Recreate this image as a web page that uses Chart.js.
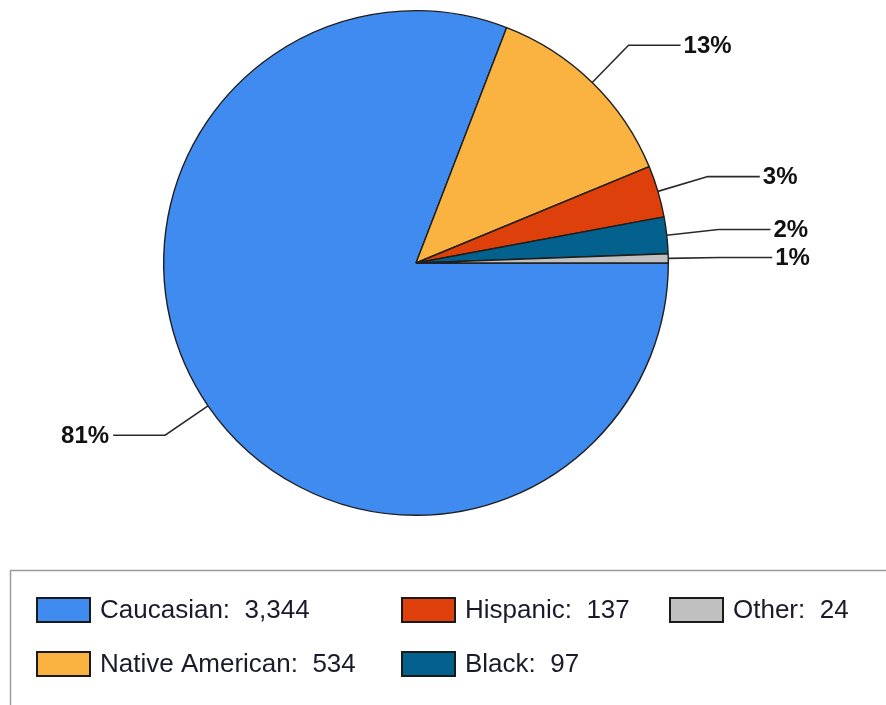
<!DOCTYPE html>
<html>
<head>
<meta charset="utf-8">
<script src="https://cdn.jsdelivr.net/npm/chart.js@4"></script>
<style>
  html, body { margin: 0; padding: 0; background: #fff; }
  #wrap { position: relative; width: 886px; height: 705px; }
</style>
</head>
<body>
<div id="wrap"><canvas id="pie" width="886" height="705"></canvas></div>
<script>
const categories = ["Caucasian", "Native American", "Hispanic", "Black", "Other"];
const counts = [3344, 534, 137, 97, 24];
const sliceColors = ["#3f8bf0", "#fab241", "#de400b", "#04608c", "#c0c0c0"];

const FONT = "'Liberation Sans', Arial, sans-serif";

// leader lines with percent labels outside the pie
const leaderLabels = {
    id: "leaderLabels",
    afterDatasetsDraw(chart) {
        const ctx = chart.ctx;
        const meta = chart.getDatasetMeta(0);
        const total = counts.reduce((a, b) => a + b, 0);
        ctx.save();
        ctx.strokeStyle = "#2a2a2a";
        ctx.lineWidth = 1.6;
        ctx.fillStyle = "#111";
        ctx.font = "bold 24px " + FONT;
        ctx.textBaseline = "middle";
        meta.data.forEach((arc, i) => {
            const p = arc.getProps(["x", "y", "startAngle", "endAngle", "outerRadius"], true);
            const mid = (p.startAngle + p.endAngle) / 2;
            const x0 = p.x + Math.cos(mid) * p.outerRadius;
            const y0 = p.y + Math.sin(mid) * p.outerRadius;
            const x1 = p.x + Math.cos(mid) * (p.outerRadius + 52);
            const y1 = p.y + Math.sin(mid) * (p.outerRadius + 52);
            const right = Math.cos(mid) >= 0;
            const x2 = x1 + (right ? 52 : -52);
            ctx.beginPath();
            ctx.moveTo(x0, y0);
            ctx.lineTo(x1, y1);
            ctx.lineTo(x2, y1);
            ctx.stroke();
            const pct = Math.round(counts[i] / total * 100) + "%";
            ctx.textAlign = right ? "left" : "right";
            ctx.fillText(pct, x2 + (right ? 3 : -4), y1 + 1);
        });
        ctx.restore();
    }
};

// boxed legend below the pie, column-major in 3 columns
const boxLegend = {
    id: "boxLegend",
    afterDraw(chart) {
        const ctx = chart.ctx;
        ctx.save();
        ctx.strokeStyle = "#9a9a9a";
        ctx.lineWidth = 1.5;
        ctx.strokeRect(10.5, 570.5, 900, 200);
        const colX = [37, 402, 670];
        const rowY = [610, 664];
        ctx.font = "26px " + FONT;
        ctx.textBaseline = "middle";
        ctx.textAlign = "left";
        categories.forEach((name, i) => {
            const x = colX[Math.floor(i / 2)];
            const y = rowY[i % 2];
            ctx.fillStyle = sliceColors[i];
            ctx.fillRect(x, y - 12, 53, 24);
            ctx.strokeStyle = "#1a1a1a";
            ctx.lineWidth = 2;
            ctx.strokeRect(x, y - 12, 53, 24);
            ctx.fillStyle = "#1a1a2a";
            ctx.fillText(name + ":  " + counts[i].toLocaleString("en-US"), x + 63, y + 1);
        });
        ctx.restore();
    }
};

new Chart(document.getElementById("pie").getContext("2d"), {
    type: "pie",
    data: {
        labels: categories,
        datasets: [{
            data: counts,
            backgroundColor: sliceColors,
            borderColor: "#1e1e1e",
            borderWidth: 1.4
        }]
    },
    options: {
        responsive: false,
        animation: false,
        rotation: 90,
        layout: { padding: { left: 163, top: 10, right: 217, bottom: 189 } },
        plugins: {
            legend: { display: false },
            tooltip: { enabled: false }
        }
    },
    plugins: [leaderLabels, boxLegend]
});
</script>
</body>
</html>
